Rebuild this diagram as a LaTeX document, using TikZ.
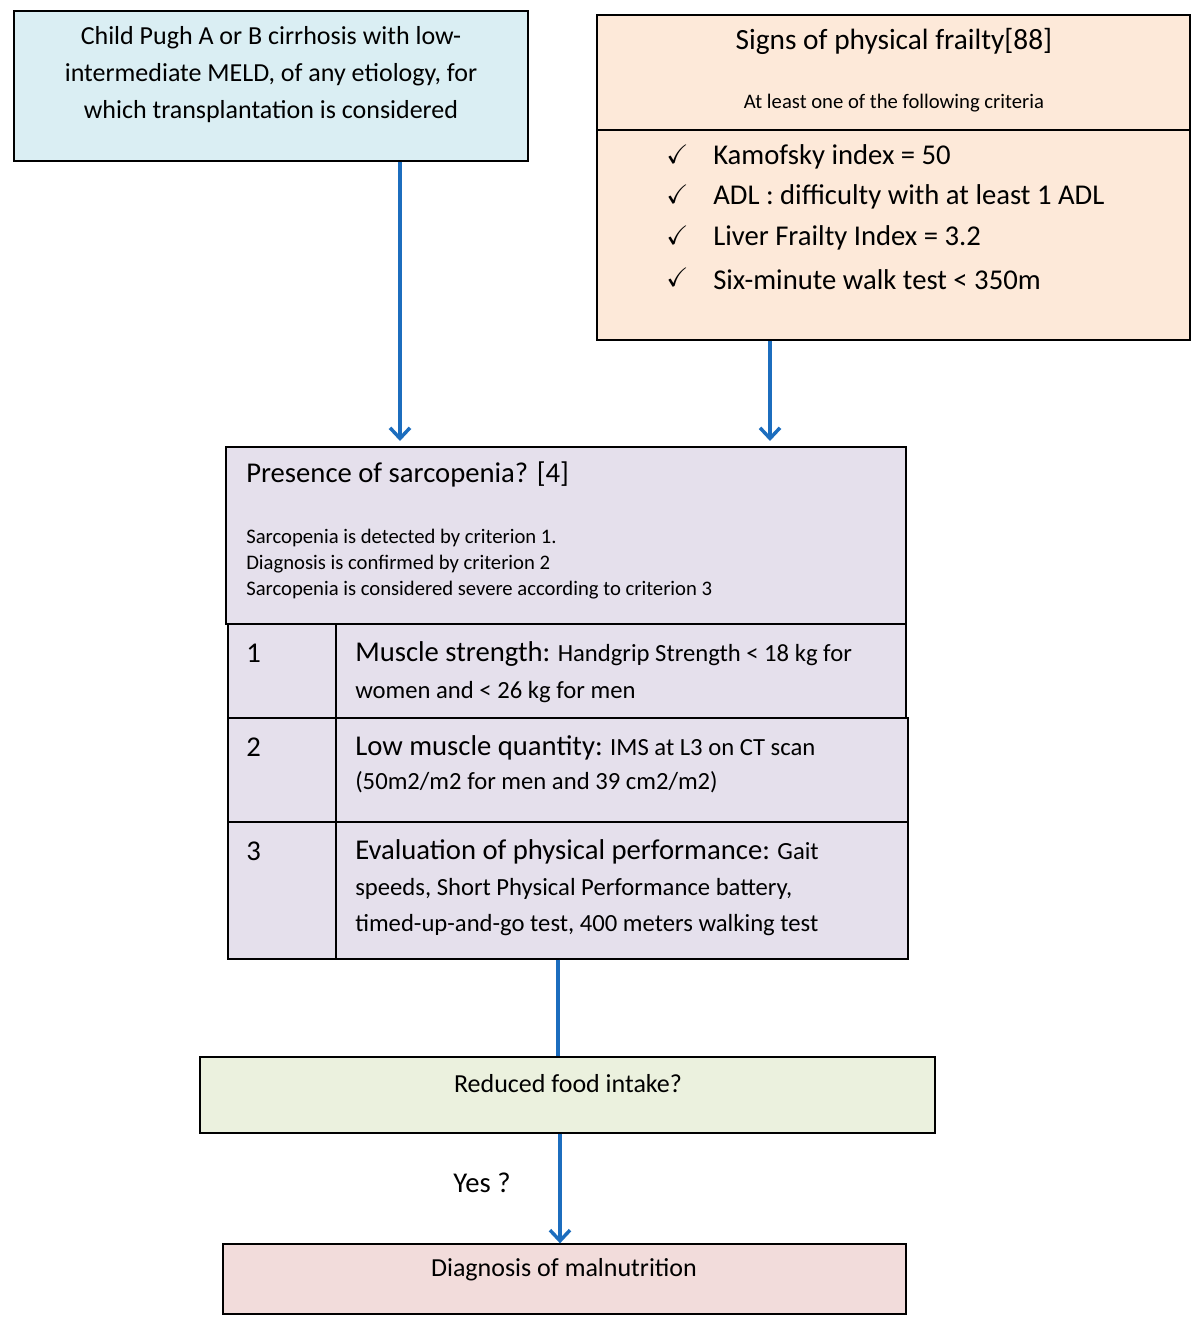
\documentclass[tikz,border=0pt]{standalone}
\usepackage{amsmath, amssymb}
\usepackage{fontspec}
\setmainfont{Carlito}
\usetikzlibrary{arrows.meta, positioning, calc}

\definecolor{azzurro}{HTML}{DAEEF3}
\definecolor{pesca}{HTML}{FDE9D9}
\definecolor{lilla}{HTML}{E5E0EC}
\definecolor{verde}{HTML}{EBF1DE}
\definecolor{rosa}{HTML}{F2DCDB}
\definecolor{blu}{HTML}{1C6DBE}

\begin{document}
\begin{tikzpicture}[x=0.75pt, y=-0.75pt,
    box/.style={draw, line width=1pt, inner sep=0pt},
    testo/.style={inner sep=0pt, align=left, anchor=west},
    freccia/.style={draw=blu, line width=2.6pt, -{Straight Barb[length=8pt,width=15pt]}},
    linea/.style={draw=blu, line width=2.6pt}]
    \useasboundingbox (0,0) rectangle (1201,1328);

    % Paziente
    \node[box, fill=azzurro, minimum width=385.5pt, minimum height=112.5pt] (paziente) at (271,86) {};
    \node[inner sep=0pt, align=center, font=\fontsize{19.5}{27.75}\selectfont] (tpaziente) at (271,75)
        {Child Pugh A or B cirrhosis with low-\\intermediate MELD, of any etiology, for\\which transplantation is considered};

    % Fragilità fisica
    \node[box, fill=pesca, minimum width=444.75pt, minimum height=243.75pt] (fragilita) at (893.5,177.5) {};
    \coordinate (div) at (0,130);
    \draw[line width=1pt] (fragilita.west |- div) -- (fragilita.east |- div);
    \node[inner sep=0pt, font=\fontsize{22}{26}\selectfont] (tfragilita) at (894,41) {Signs of physical frailty[88]};
    \node[inner sep=0pt, font=\fontsize{15.5}{18}\selectfont] (sotto) at (894,103) {At least one of the following criteria};
    \node[testo, font=\fontsize{20}{24}\selectfont] (c1) at (666,154) {$\boldsymbol{\checkmark}$};
    \node[testo, font=\fontsize{20}{24}\selectfont] (c2) at (666,194) {$\boldsymbol{\checkmark}$};
    \node[testo, font=\fontsize{20}{24}\selectfont] (c3) at (666,235) {$\boldsymbol{\checkmark}$};
    \node[testo, font=\fontsize{20}{24}\selectfont] (c4) at (666,277) {$\boldsymbol{\checkmark}$};
    \node[testo, font=\fontsize{21.5}{26}\selectfont] (k1) at (713,157) {Kamofsky index = 50};
    \node[testo, font=\fontsize{21.5}{26}\selectfont] (k2) at (713,197) {ADL : difficulty with at least 1 ADL};
    \node[testo, font=\fontsize{21.5}{26}\selectfont] (k3) at (713,238) {Liver Frailty Index = 3.2};
    \node[testo, font=\fontsize{21.5}{26}\selectfont] (k4) at (713,280) {Six-minute walk test < 350m};

    % Sarcopenia
    \node[box, fill=lilla, minimum width=510pt, minimum height=132.75pt] (sarcopenia) at (566,535.5) {};
    \node[testo, font=\fontsize{21.5}{26}\selectfont] (tsarcopenia) at (246,474) {Presence of sarcopenia? [4]};
    \node[testo, font=\fontsize{15.5}{19.5}\selectfont] (regole) at (246,564)
        {Sarcopenia is detected by criterion 1.\\Diagnosis is confirmed by criterion 2\\Sarcopenia is considered severe according to criterion 3};

    % Criteri
    \node[box, fill=lilla, minimum width=81pt, minimum height=70.5pt] (num1) at (282,671) {};
    \node[box, fill=lilla, minimum width=427.5pt, minimum height=70.5pt] (crit1) at (621,671) {};
    \node[box, fill=lilla, minimum width=81pt, minimum height=78pt] (num2) at (282,770) {};
    \node[box, fill=lilla, minimum width=429pt, minimum height=78pt] (crit2) at (622,770) {};
    \node[box, fill=lilla, minimum width=81pt, minimum height=102.75pt] (num3) at (282,890.5) {};
    \node[box, fill=lilla, minimum width=429pt, minimum height=102.75pt] (crit3) at (622,890.5) {};

    \node[testo, font=\fontsize{21.5}{26}\selectfont] (n1) at (246,653) {1};
    \node[testo, font=\fontsize{21.5}{26}\selectfont] (n2) at (246,747) {2};
    \node[testo, font=\fontsize{21.5}{26}\selectfont] (n3) at (246,851) {3};
    \node[testo, font=\fontsize{18.5}{27.75}\selectfont] (t1) at (355,672.5)
        {{\fontsize{21.5}{26}\selectfont Muscle strength:} Handgrip Strength < 18 kg for\\women and < 26 kg for men};
    \node[testo, font=\fontsize{18.5}{25.5}\selectfont] (t2) at (355,764)
        {{\fontsize{21.5}{26}\selectfont Low muscle quantity:} IMS at L3 on CT scan\\(50m2/m2 for men and 39 cm2/m2)};
    \node[testo, font=\fontsize{18.5}{27}\selectfont] (t3) at (355,888)
        {{\fontsize{21.5}{26}\selectfont Evaluation of physical performance:} Gait\\speeds, Short Physical Performance battery,\\timed-up-and-go test, 400 meters walking test};

    % Assunzione di cibo
    \node[box, fill=verde, minimum width=551.25pt, minimum height=57pt] (cibo) at (567.5,1095) {};
    \node[inner sep=0pt, font=\fontsize{19.5}{22}\selectfont] (tcibo) at (568,1084) {Reduced food intake?};

    % Malnutrizione
    \node[box, fill=rosa, minimum width=512.25pt, minimum height=52.5pt] (malnutrizione) at (564.5,1279) {};
    \node[inner sep=0pt, font=\fontsize{19.5}{22}\selectfont] (tmal) at (564,1270) {Diagnosis of malnutrition};

    % Frecce
    \coordinate (xa) at (400,0);
    \coordinate (xb) at (770,0);
    \coordinate (xc) at (558,0);
    \coordinate (xd) at (560,0);
    \draw[freccia, shorten >=4pt] (paziente.south -| xa) -- (sarcopenia.north -| xa);
    \draw[freccia, shorten >=4pt] (fragilita.south -| xb) -- (sarcopenia.north -| xb);
    \draw[linea] (crit3.south -| xc) -- (cibo.north -| xc);
    \draw[freccia] (cibo.south -| xd) -- (malnutrizione.north -| xd);
    \node[inner sep=0pt, font=\fontsize{21.5}{26}\selectfont] (si) at (482,1183) {Yes ?};

\end{tikzpicture}
\end{document}
